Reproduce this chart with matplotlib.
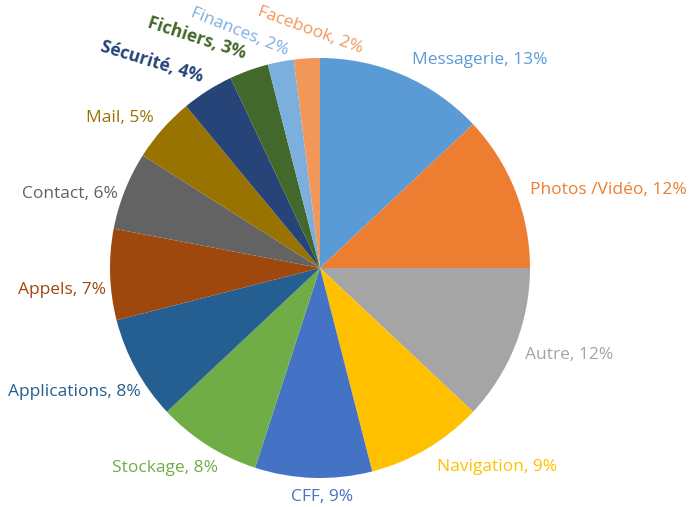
import matplotlib.pyplot as plt

# Data
categories = ['Messagerie', 'Photos /Vidéo', 'Autre', 'Navigation', 'CFF', 'Stockage',
              'Applications', 'Appels', 'Contact', 'Mail', 'Sécurité', 'Fichiers',
              'Finances', 'Facebook']
shares = [13, 12, 12, 9, 9, 8, 8, 7, 6, 5, 4, 3, 2, 2]

colors = ['#5B9BD5', '#ED7D31', '#A5A5A5', '#FFC000', '#4472C4', '#70AD47',
          '#255E91', '#9E480E', '#636363', '#997300', '#264478', '#43682B',
          '#7CAFDD', '#F1975A']

# label placement (pixel coords, y from top), rotation, weight
label_pos = [(480, 60), (608, 190), (569, 355), (497, 467), (322, 497), (165, 468),
             (74, 392), (62, 290), (70, 194), (120, 118), (152, 62), (197, 38),
             (240, 32), (310, 30)]
label_rot = [0, 0, 0, 0, 0, 0, 0, 0, 0, 0, -17, -18, -22, -20]
label_bold = [False] * 10 + [True, True, False, False]

W, H = 690, 507
fig = plt.figure(figsize=(6.9, 5.07), dpi=100)
ax = fig.add_axes([0, 0, 1, 1])

ax.pie(shares, colors=colors, startangle=90, counterclock=False,
       center=(320, H - 268), radius=210, frame=True,
       wedgeprops=dict(linewidth=0))
ax.set_xlim(0, W)
ax.set_ylim(0, H)
ax.set_aspect('equal')
ax.axis('off')

for name, val, c, (x, y), rot, bold in zip(categories, shares, colors, label_pos,
                                            label_rot, label_bold):
    ax.text(x, H - y, f'{name}, {val}%', color=c, fontsize=12.5, family='Open Sans',
            fontweight='bold' if bold else 'normal', rotation=rot,
            ha='center', va='center', rotation_mode='anchor')

plt.savefig('out.png', dpi=100)
